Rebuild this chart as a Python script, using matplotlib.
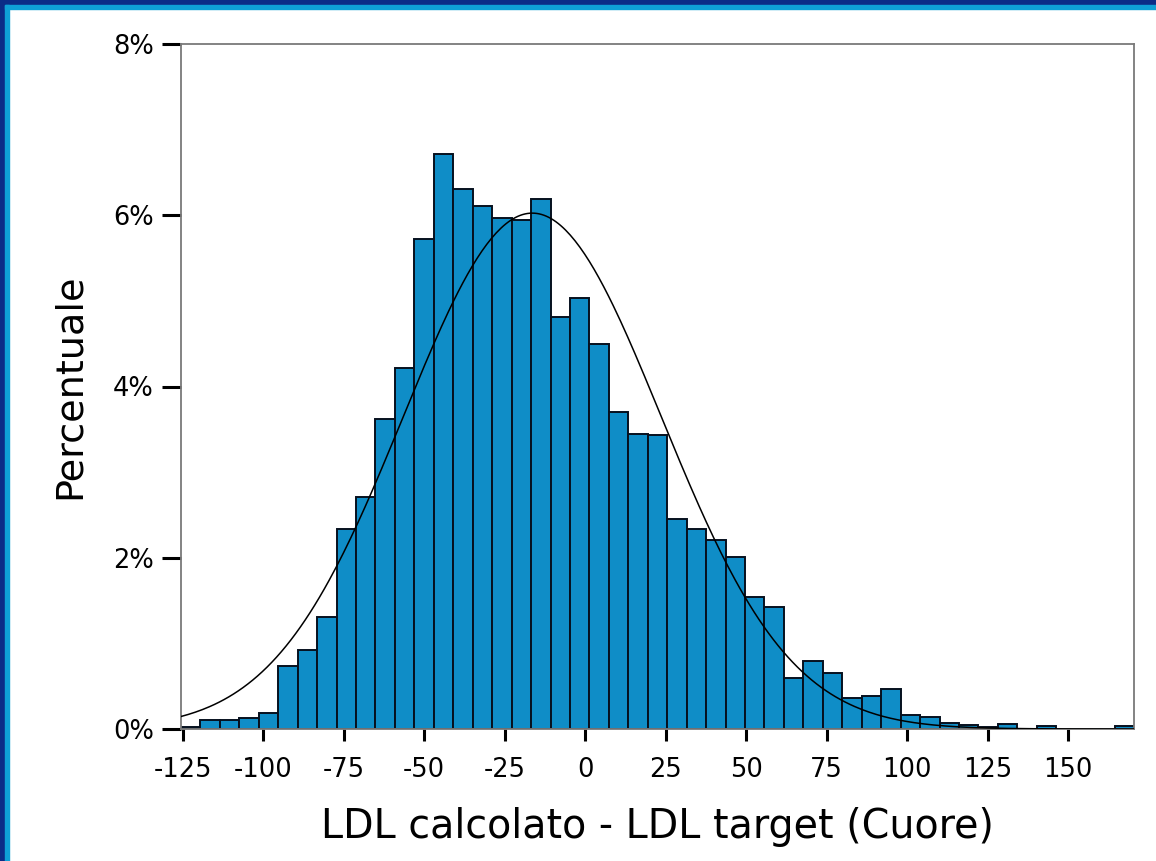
import numpy as np
import matplotlib.pyplot as plt
from matplotlib.patches import Rectangle
from matplotlib.ticker import FuncFormatter

plt.rcParams['axes.unicode_minus'] = False

# histogram: 49 bins of equal width, percent of cases in each bin
bin_left = -125.5
bin_right = 170.5
percent = [0.02, 0.10, 0.10, 0.13, 0.19, 0.73, 0.92, 1.31, 2.34, 2.71,
           3.62, 4.22, 5.72, 6.72, 6.31, 6.11, 5.97, 5.95, 6.19, 4.81,
           5.03, 4.50, 3.70, 3.45, 3.43, 2.45, 2.34, 2.21, 2.01, 1.54,
           1.43, 0.60, 0.79, 0.65, 0.36, 0.39, 0.47, 0.16, 0.14, 0.074,
           0.047, 0.02, 0.055, 0.0, 0.03, 0.0, 0.0, 0.0, 0.03]

# fitted normal curve
mean_val = -16.4
sd_val = 40.0

x_ticks = [-125, -100, -75, -50, -25, 0, 25, 50, 75, 100, 125, 150]
y_ticks = [0, 2, 4, 6, 8]

edges = np.linspace(bin_left, bin_right, len(percent) + 1)
width = edges[1] - edges[0]

fig = plt.figure(figsize=(11.56, 8.61), dpi=100, facecolor='white')
ax = fig.add_axes([181 / 1156, 1 - 729 / 861, (1134 - 181) / 1156, (729 - 44) / 861])

ax.bar(edges[:-1], percent, width=width, align='edge', color='#0f8dc7',
       edgecolor='#06101e', linewidth=1.4, zorder=2)

xs = np.linspace(bin_left, bin_right, 400)
curve = 100 * width / (sd_val * np.sqrt(2 * np.pi)) * np.exp(-0.5 * ((xs - mean_val) / sd_val) ** 2)
ax.plot(xs, curve, color='black', linewidth=1.1, zorder=3)

ax.set_xlim(bin_left, bin_right)
ax.set_ylim(0, 8)
ax.set_xticks(x_ticks)
ax.set_yticks(y_ticks)
ax.yaxis.set_major_formatter(FuncFormatter(lambda v, p: '%d%%' % v))

for s in ax.spines.values():
    s.set_color('#7a7a7a')
    s.set_linewidth(1.3)

ax.tick_params(axis='y', length=13.5, width=2.2, color='black', labelsize=18.5, pad=6)
ax.tick_params(axis='x', length=8.5, width=2.2, color='black', labelsize=18.5, pad=12)

ax.set_xlabel('LDL calcolato - LDL target (Cuore)', fontsize=28.5, labelpad=17)
ax.set_ylabel('Percentuale', fontsize=27.5, labelpad=18)

# blue frame on the top and left edges
W, H = 1156, 861
navy = '#0b2c87'
cyan = '#0ea0d6'
fig.patches.append(Rectangle((0, 1 - 5 / H), 1, 5 / H, transform=fig.transFigure, color=navy, zorder=0))
fig.patches.append(Rectangle((0, 0), 5 / W, 1, transform=fig.transFigure, color=navy, zorder=0))
fig.patches.append(Rectangle((5 / W, 1 - 9 / H), 1, 4 / H, transform=fig.transFigure, color=cyan, zorder=0))
fig.patches.append(Rectangle((5 / W, 0), 4 / W, 1 - 5 / H, transform=fig.transFigure, color=cyan, zorder=0))

fig.savefig('out.png', dpi=100, facecolor='white')
